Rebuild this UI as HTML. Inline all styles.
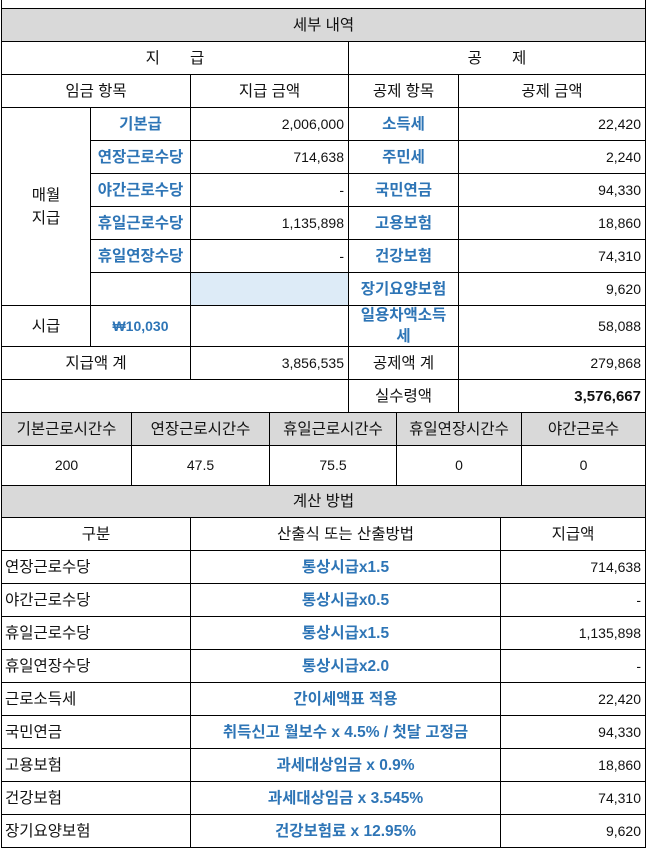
<!DOCTYPE html>
<html><head><meta charset="utf-8"><style>
body{margin:0;width:646px;height:848px;overflow:hidden;background:#fff;position:relative;font-family:"Liberation Sans","Noto Sans CJK KR","Malgun Gothic",sans-serif;font-size:15.5px;color:#111}
.c{position:absolute;box-sizing:border-box;border:1px solid #000;display:flex;align-items:center;justify-content:center;text-align:center;line-height:21px;white-space:nowrap}
.g{background:#d9d9d9}
.b{color:#2e75b6;font-weight:bold}
.r{justify-content:flex-end;padding-right:4px;font-size:14px}
.n{font-size:14px}
.l{justify-content:flex-start;padding-left:3px}
.lb{background:#ddebf7}
</style></head><body>
<div id="t"></div>
<script>
const out=[];
function c(x1,y1,x2,y2,t,cls){out.push(`<div class="c ${cls||''}" style="left:${x1}px;top:${y1}px;width:${x2-x1+1}px;height:${y2-y1+1}px">${t||''}</div>`);}
c(1,-5,645,8,'');
c(1,8,645,41,'세부 내역','g');
c(1,41,348,74,'지&nbsp;&nbsp;&nbsp;&nbsp;&nbsp;&nbsp;&nbsp;급');
c(348,41,645,74,'공&nbsp;&nbsp;&nbsp;&nbsp;&nbsp;&nbsp;&nbsp;제');
c(1,74,190,107,'임금 항목');c(190,74,348,107,'지급 금액');c(348,74,458,107,'공제 항목');c(458,74,645,107,'공제 금액');
c(1,107,90,305,'<span style="white-space:normal;line-height:23px">매월<br>지급</span>');
const L=['기본급','연장근로수당','야간근로수당','휴일근로수당','휴일연장수당',''];
const A=['2,006,000','714,638','-','1,135,898','-',''];
const D=['소득세','주민세','국민연금','고용보험','건강보험','장기요양보험'];
const E=['22,420','2,240','94,330','18,860','74,310','9,620'];
for(let k=0;k<6;k++){const y=107+33*k;
c(90,y,190,y+33,L[k],'b');c(190,y,348,y+33,A[k],k==5?'lb':'r');c(348,y,458,y+33,D[k],'b');c(458,y,645,y+33,E[k],'r');}
c(1,305,90,346,'시급');c(90,305,190,346,'<span class="n">₩10,030</span>','b');c(190,305,348,346,'');
c(348,305,458,346,'<span style="white-space:normal">일용차액소득<br>세</span>','b');c(458,305,645,346,'58,088','r');
c(1,346,190,379,'지급액 계');c(190,346,348,379,'3,856,535','r');c(348,346,458,379,'공제액 계');c(458,346,645,379,'279,868','r');
c(1,379,348,412,'');c(348,379,458,412,'실수령액');c(458,379,645,412,'<b style="font-size:15px">3,576,667</b>','r');
const X=[1,131,269,396,521,645];const H=['기본근로시간수','연장근로시간수','휴일근로시간수','휴일연장시간수','야간근로수'];const V=['200','47.5','75.5','0','0'];
for(let i=0;i<5;i++){c(X[i],412,X[i+1],445,H[i],'g');c(X[i],445,X[i+1],485,V[i],'n');}
c(1,485,645,517,'계산 방법','g');
c(1,517,190,550,'구분');c(190,517,500,550,'산출식 또는 산출방법');c(500,517,645,550,'지급액');
const R=[['연장근로수당','통상시급x1.5','714,638'],['야간근로수당','통상시급x0.5','-'],['휴일근로수당','통상시급x1.5','1,135,898'],['휴일연장수당','통상시급x2.0','-'],['근로소득세','간이세액표 적용','22,420'],['국민연금','취득신고 월보수 x 4.5% / 첫달 고정금','94,330'],['고용보험','과세대상임금 x 0.9%','18,860'],['건강보험','과세대상임금 x 3.545%','74,310'],['장기요양보험','건강보험료 x 12.95%','9,620']];
R.forEach((r,k)=>{const y=550+33*k;c(1,y,190,y+33,r[0],'l');c(190,y,500,y+33,r[1],'b');c(500,y,645,y+33,r[2],'r');});
document.getElementById('t').innerHTML=out.join('');
</script>
</body></html>
